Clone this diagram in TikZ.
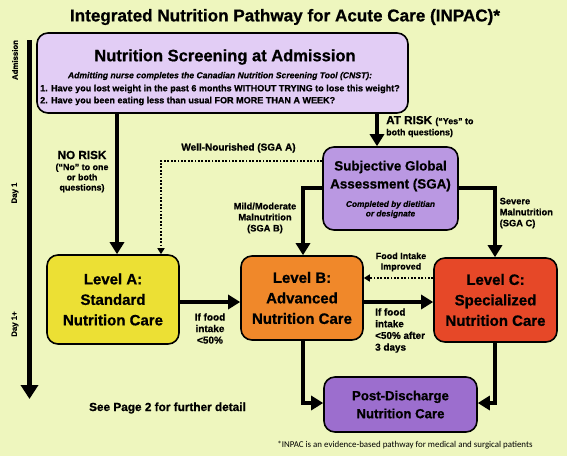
\documentclass[tikz,border=0pt]{standalone}
\usepackage{fontspec}
\setmainfont{Liberation Sans}[BoldFeatures={FakeBold=0.8},BoldItalicFeatures={FakeBold=0.5}]
\newfontfamily\noteFont{Carlito}
\usetikzlibrary{arrows.meta}
\definecolor{bgc}{RGB}{238,246,190}
\definecolor{scrc}{RGB}{226,205,245}
\definecolor{sgac}{RGB}{186,152,226}
\definecolor{lac}{RGB}{236,224,52}
\definecolor{lbc}{RGB}{240,136,42}
\definecolor{lcc}{RGB}{230,72,40}
\definecolor{pdc}{RGB}{156,110,206}
\tikzset{
  box/.style={draw=black, line width=1.6pt, rounded corners=11pt, inner sep=0pt, align=center, font=\bfseries},
  flow/.style={line width=4pt, -{Triangle[length=12pt,width=14pt]}},
  dflow/.style={line width=1.8pt, dash pattern=on 1.8pt off 1.6pt, -{Triangle[length=6pt,width=7pt]}},
  lbl/.style={font=\bfseries\fontsize{9.2}{11}\selectfont, inner sep=0pt, align=center},
  day/.style={font=\bfseries\fontsize{7.8}{9}\selectfont, rotate=90, inner sep=0pt},
}
\begin{document}
\begin{tikzpicture}[x=1pt,y=-1pt]
\useasboundingbox[fill=bgc] (0,0) rectangle (567,456);
% title
\node[font=\bfseries\fontsize{17.1}{20}\selectfont, inner sep=0pt] (title) at (285,17) {Integrated Nutrition Pathway for Acute Care (INPAC)*};
% timeline
\coordinate (tl0) at (29.5,40);
\coordinate (tl1) at (29.5,399);
\draw[line width=5pt, -{Triangle[length=14pt,width=17pt]}] (tl0) -- (tl1);
\node[day] (dadm) at (15,60) {Admission};
\node[day] (dday1) at (15,193) {Day 1};
\node[day] (dday1p) at (15,324) {Day 1+};
% boxes
\node[box, fill=scrc, minimum width=371pt, minimum height=80pt] (scr) at (222.5,73) {};
\node[font=\bfseries\fontsize{16.5}{19}\selectfont, inner sep=0pt] (scrt) at (225,57) {Nutrition Screening at Admission};
\node[font=\bfseries\itshape\fontsize{8.6}{10}\selectfont, inner sep=0pt] (scri) at (220,76) {Admitting nurse completes the Canadian Nutrition Screening Tool (CNST):};
\node[font=\bfseries\fontsize{9.05}{10}\selectfont, inner sep=0pt, anchor=west] (q1) at (40,89) {1. Have you lost weight in the past 6 months WITHOUT TRYING to lose this weight?};
\node[font=\bfseries\fontsize{9.05}{10}\selectfont, inner sep=0pt, anchor=west] (q2) at (40,101) {2. Have you been eating less than usual FOR MORE THAN A WEEK?};
\node[box, fill=sgac, minimum width=135pt, minimum height=83pt] (sga) at (390.5,188.5) {};
\node[font=\bfseries\fontsize{13.4}{18}\selectfont, align=center, inner sep=0pt] (sgat) at (390.5,176) {Subjective Global\\Assessment (SGA)};
\node[font=\bfseries\itshape\fontsize{8.3}{9.5}\selectfont, align=center, inner sep=0pt] (sgai) at (390.5,209.5) {Completed by dietitian\\or designate};
\node[box, fill=lac, minimum width=132pt, minimum height=89pt, font=\bfseries\fontsize{15}{20.5}\selectfont] (la) at (113,299.5) {Level A:\\Standard\\Nutrition Care};
\node[box, fill=lbc, minimum width=122pt, minimum height=84pt, font=\bfseries\fontsize{15}{20.5}\selectfont] (lb) at (302,298) {Level B:\\Advanced\\Nutrition Care};
\node[box, fill=lcc, minimum width=123pt, minimum height=84pt, font=\bfseries\fontsize{15}{20.5}\selectfont] (lc) at (495.5,300) {Level C:\\Specialized\\Nutrition Care};
\node[box, fill=pdc, minimum width=153pt, minimum height=55pt, font=\bfseries\fontsize{13.2}{18}\selectfont] (pd) at (400.5,404.5) {Post-Discharge\\Nutrition Care};
% connectors
\draw[flow] (scr.south -| 117,0) -- (la.north -| 117,0);
\draw[flow] (scr.south -| 377,0) -- (sga.north -| 377,0);
\draw[dflow] (sga.west |- 0,161) -| (la.north -| 161,0);
\draw[flow] (sga.west |- 0,188) -| (lb.north -| 303,0);
\draw[flow] (sga.east |- 0,188) -| (lc.north -| 495,0);
\draw[flow] (la.east |- 0,302) -- (lb.west |- 0,302);
\draw[flow] (lb.east |- 0,302) -- (lc.west |- 0,302);
\draw[dflow] (lc.west |- 0,278) -- (lb.east |- 0,278);
\draw[flow] (lb.south -| 303,0) |- (pd.west |- 0,403);
\draw[flow] (lc.south -| 495,0) |- (pd.east |- 0,403);
% labels
\node[lbl, font=\bfseries\fontsize{11.7}{13}\selectfont] (norisk) at (82,155) {NO RISK};
\node[lbl, font=\bfseries\fontsize{8.9}{10.2}\selectfont] (norisk2) at (82,178) {(“No” to one\\or both\\questions)};
\node[lbl, anchor=west, font=\bfseries\fontsize{11.7}{13}\selectfont] (atrisk) at (386,121) {AT RISK \fontsize{8.9}{10}\selectfont(“Yes” to};
\node[lbl, anchor=west, font=\bfseries\fontsize{8.9}{10}\selectfont] (atrisk2) at (386,133) {both questions)};
\node[lbl, font=\bfseries\fontsize{10}{11}\selectfont] (wn) at (238.5,148) {Well-Nourished (SGA A)};
\node[lbl, font=\bfseries\fontsize{9.3}{11}\selectfont] (mm) at (265,218) {Mild/Moderate\\Malnutrition\\(SGA B)};
\node[lbl, align=left, anchor=west, font=\bfseries\fontsize{9.3}{11}\selectfont] (sev) at (499.5,213) {Severe\\Malnutrition\\(SGA C)};
\node[lbl, font=\bfseries\fontsize{9}{10.5}\selectfont] (fi) at (401,262) {Food Intake\\Improved};
\node[lbl, font=\bfseries\fontsize{10}{11.5}\selectfont] (ifa) at (210,328.5) {If food\\intake\\\textless50\%};
\node[lbl, align=left, anchor=west, font=\bfseries\fontsize{9.9}{11.7}\selectfont] (ifb) at (375,330.5) {If food\\intake\\\textless50\% after\\3 days};
\node[lbl, font=\bfseries\fontsize{11.8}{13}\selectfont] (see) at (167.5,408) {See Page 2 for further detail};
\node[inner sep=0pt, font=\noteFont\fontsize{8.9}{10}\selectfont] (note) at (405,445) {*INPAC is an evidence-based pathway for medical and surgical patients};
\end{tikzpicture}
\end{document}
